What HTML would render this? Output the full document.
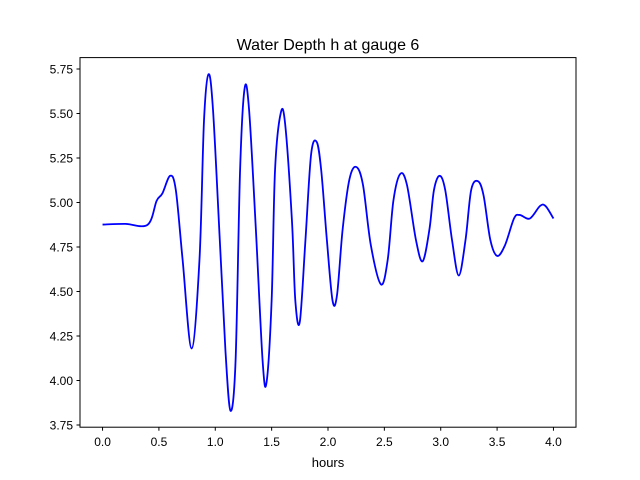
<!DOCTYPE html>
<html><head><meta charset="utf-8"><style>
body{margin:0;background:#fff;}
svg{display:block;font-family:"Liberation Sans","DejaVu Sans",sans-serif;}
</style></head><body>
<svg id="chart" width="640" height="480" viewBox="0 0 640 480" xmlns="http://www.w3.org/2000/svg">
<rect width="640" height="480" fill="#fff"/>
<text x="328" y="50" text-anchor="middle" font-size="16">Water Depth h at gauge 6</text>
<g id="xt"></g>
<g id="yt"></g>
<path id="line" fill="none" stroke="#0000ff" stroke-width="1.8"/>
<rect x="80" y="57.6" width="496" height="369.6" fill="none" stroke="#000" stroke-width="1"/>
<text x="328" y="467" text-anchor="middle" font-size="13">hours</text>
</svg>
<script>
const times=[0,0.2,0.4,0.48,0.53,0.6,0.65,0.71,0.79,0.86,0.9,0.94,0.98,1.04,1.09,1.135,1.18,1.22,1.26,1.3,1.36,1.42,1.455,1.5,1.53,1.58,1.62,1.68,1.71,1.75,1.8,1.85,1.9,1.94,1.99,2.04,2.08,2.13,2.19,2.25,2.31,2.38,2.47,2.53,2.58,2.64,2.7,2.78,2.84,2.9,2.94,2.99,3.04,3.1,3.16,3.22,3.27,3.33,3.38,3.44,3.5,3.57,3.65,3.7,3.79,3.88,3.93,4.0];
const depths=[4.876,4.88,4.875,5.01,5.05,5.15,5.07,4.68,4.18,4.68,5.46,5.72,5.52,4.79,4.17,3.83,4.11,5.18,5.64,5.52,4.85,4.11,3.99,4.45,5.18,5.5,5.44,4.9,4.45,4.33,4.79,5.27,5.34,5.18,4.79,4.45,4.48,4.85,5.13,5.2,5.1,4.76,4.54,4.68,5.01,5.16,5.1,4.79,4.67,4.85,5.07,5.15,5.07,4.79,4.59,4.79,5.07,5.12,5.04,4.79,4.7,4.76,4.91,4.93,4.91,4.98,4.98,4.91];
const xTicks=[0,0.5,1,1.5,2,2.5,3,3.5,4];
const yTicks=[3.75,4.00,4.25,4.50,4.75,5.00,5.25,5.50,5.75];
const X=t=>80+(t+0.2)/4.4*496;
const Y=h=>69+(5.75-h)*178;
const NS="http://www.w3.org/2000/svg";
const xt=document.getElementById('xt'),yt=document.getElementById('yt');
xTicks.forEach(v=>{
 const l=document.createElementNS(NS,'line');
 
 
 l.setAttribute('x1',X(v));l.setAttribute('x2',X(v));l.setAttribute('y1',427.2);l.setAttribute('y2',430.7);l.setAttribute('stroke','#000');
 xt.appendChild(l);
 const t=document.createElementNS(NS,'text');
 
 
 t.setAttribute('x',X(v));t.setAttribute('y',446);t.setAttribute('text-anchor','middle');t.setAttribute('font-size','12');
 t.textContent=v.toFixed(1);xt.appendChild(t);
});
yTicks.forEach(v=>{
 const l=document.createElementNS(NS,'line');
 
 
 l.setAttribute('x1',76.5);l.setAttribute('x2',80);l.setAttribute('y1',Y(v));l.setAttribute('y2',Y(v));l.setAttribute('stroke','#000');
 yt.appendChild(l);
 const t=document.createElementNS(NS,'text');
 
 
 t.setAttribute('x',73);t.setAttribute('y',Y(v)+4.5);t.setAttribute('text-anchor','end');t.setAttribute('font-size','12');
 t.textContent=v.toFixed(2);yt.appendChild(t);
});
const P=times.map((t,i)=>[X(t),Y(depths[i])]);
let d='M'+P[0][0]+','+P[0][1];
for(let i=0;i<P.length-1;i++){
 const p0=P[Math.max(0,i-1)],p1=P[i],p2=P[i+1],p3=P[Math.min(P.length-1,i+2)];
 const c1=[p1[0]+(p2[0]-p0[0])/6,p1[1]+(p2[1]-p0[1])/6];
 const c2=[p2[0]-(p3[0]-p1[0])/6,p2[1]-(p3[1]-p1[1])/6];
 d+=' C'+c1[0]+','+c1[1]+' '+c2[0]+','+c2[1]+' '+p2[0]+','+p2[1];
}
document.getElementById('line').setAttribute('d',d);
</script>
</body></html>
